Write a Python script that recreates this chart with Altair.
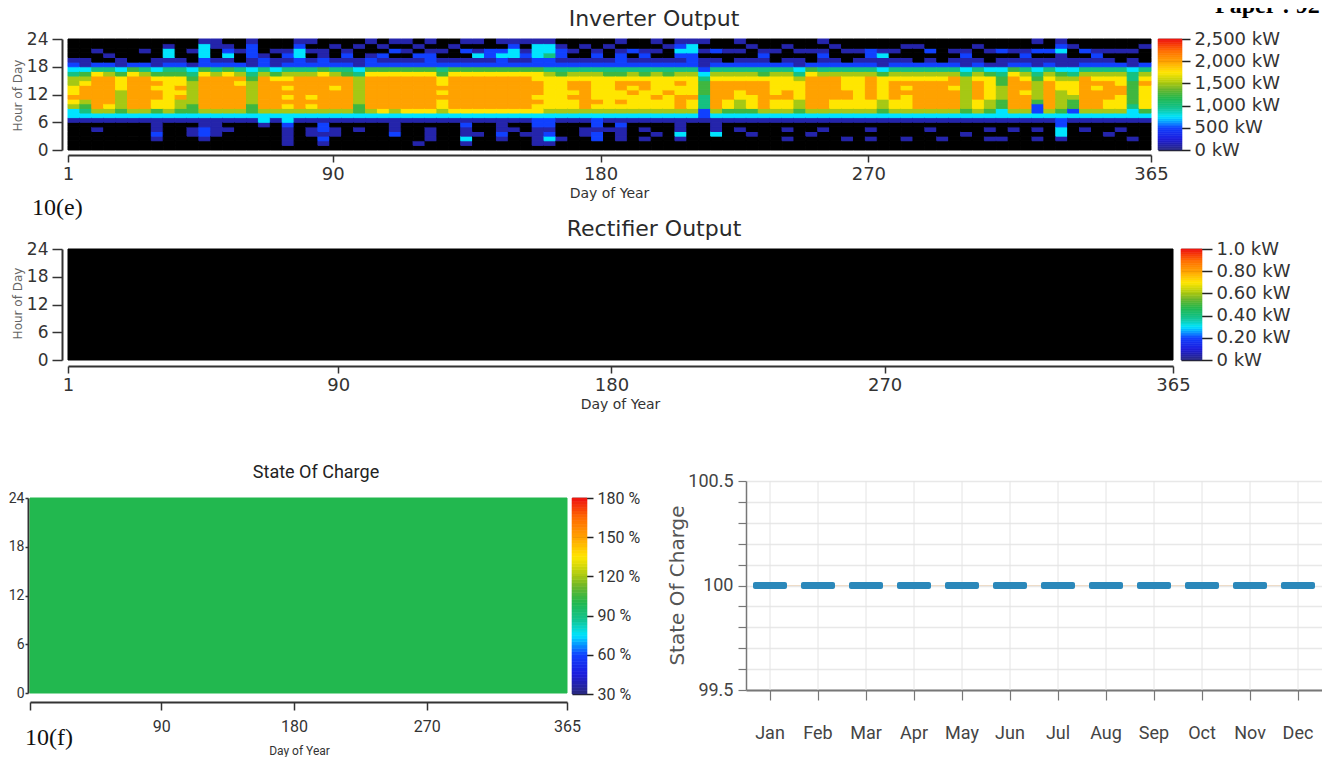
import altair as alt
import pandas as pd

W, H = 1314, 749

# hours 0-6 | hours 7-18 | hours 19-23, colour level read per 4-day column
inverter_cols = """
0000001|336787766432|10000
0000001|345688876531|10000
0000101|368888888742|00100
0000001|367888888642|01000
0000001|356666777531|10000
0000001|368888888752|00000
0000001|368888888642|00100
0012111|357788787531|10000
0000001|367777777542|13310
0000001|356687877542|10000
0001101|355666665431|00100
0012211|368888888752|23331
0001111|368888888642|10011
0000101|368888888752|13210
0000001|368888878642|00100
0000001|355666665431|12221
0000013|368888888642|21000
0000001|368888887531|10100
0111123|367878787642|12100
0000001|368888888642|23321
0001101|367878888642|10101
0121221|368888888752|21100
0001101|368888788642|10010
0000001|368888888542|12100
0000101|355666666431|10010
0000001|368888888752|21001
0000001|378888888752|12010
0002111|368888888752|10201
0000001|378888888752|10101
0100001|378888888752|12010
0011101|378888888752|22101
0000001|367787877542|10100
0000001|378888888752|10010
0131121|378888888752|10201
0001001|378888888752|13101
0000001|378888888752|12200
0012111|378888888752|23201
0000101|378888888752|13321
0001001|378888888752|12101
0111122|377878887752|23331
0132122|367777777642|24331
0010001|367777777542|12210
0000001|367787887642|10100
0001101|368888887642|10010
0022122|367877777642|12100
0000101|367777777542|10010
0011121|367877887542|22101
0000001|367778787642|10200
0010101|367777887542|12100
0001001|367787777642|10101
0000001|367778777542|10010
0013111|368887787642|12321
0000001|367787777642|22331
0000001|224445554321|10101
0003111|368888887642|10200
0000001|357788887642|00100
0000101|356677887642|10101
0001001|357778887642|10010
0000001|368888887542|12100
0000001|367787777642|00100
0010101|367788777642|10010
0000001|356677776431|10100
0001001|368888888752|00100
0000101|368888888642|12101
0000001|367788888642|10010
0010001|367788777642|00100
0000001|367777777642|10100
0010101|367788888642|12200
0000001|356677777531|13100
0000001|367788887642|10100
0010001|367778787642|10010
0000001|368888887642|00010
0000101|368888887642|10200
0010001|368888887642|00000
0000001|368888788642|10100
0001001|356666666431|12100
0000001|367788887642|10010
0010101|356677777531|00100
0010001|335566655431|10200
0000101|368888888752|10100
0000001|368887887642|12100
0010101|322566665431|10201
0000001|368888887642|10200
0013322|356666776531|11321
0000001|325567776431|10010
0000101|368888888642|10200
0000001|368888787642|12100
0001001|367788887642|10100
0000101|367778877642|00100
0010001|334555554431|10100
0000001|357777787642|00010
""".split()

level_kw = [0, 120, 500, 750, 1000, 1250, 1500, 1750, 2000]
months = ["Jan", "Feb", "Mar", "Apr", "May", "Jun", "Jul", "Aug", "Sep", "Oct", "Nov", "Dec"]
soc_monthly = [100] * 12
soc_low = [99.5] * 12
soc_high = [100.5] * 12
rectifier_value = 0
soc_value = 100
day_ticks = [1, 90, 180, 270, 365]
hour_ticks = [0, 6, 12, 18, 24]
inverter_bar_ticks = [0, 500, 1000, 1500, 2000, 2500]
rectifier_bar_ticks = [0, 0.2, 0.4, 0.6, 0.8, 1.0]
soc_bar_ticks = [30, 60, 90, 120, 150, 180]
soc_y_ticks = [99.5, 99.6, 99.7, 99.8, 99.9, 100, 100.1, 100.2, 100.3, 100.4, 100.5]

ramp_pos = [0, 0.003, 0.1, 0.2, 0.3, 0.38, 0.467, 0.55, 0.6, 0.7, 0.8, 0.9, 1]
ramp_hex = ["#000000", "#2a2a80", "#1c1cdc", "#1040ff", "#00e4ff", "#12c490", "#22b84f",
            "#6cb52a", "#a6c814", "#ffe600", "#ffa200", "#ff6a00", "#ee1010"]

WIDE = "DejaVu Sans"
NARROW = "Roboto"
INK = "#333333"


def cscale(lo, hi):
    return alt.Scale(domain=[lo + p * (hi - lo) for p in ramp_pos], range=ramp_hex,
                     interpolate="rgb", clamp=True)


def day_axis(axis_y, title_x, title_y, font, lab, ttl, hide_first=False, pad=3, tick=7):
    return alt.Axis(values=day_ticks, format="d", title="Day of Year", orient="bottom",
                    offset=axis_y - H, grid=False,
                    domainColor=INK, domainWidth=2, tickColor=INK, tickWidth=1.5, tickSize=tick,
                    labelFont=font, labelFontSize=lab, labelColor=INK, labelPadding=pad,
                    labelFlush=False, labelOverlap=False,
                    labelExpr="datum.value==1?'':datum.label" if hide_first else "datum.label",
                    titleFont=font, titleFontSize=ttl, titleFontWeight="normal", titleColor=INK,
                    titleBaseline="alphabetic", titleX=title_x, titleY=title_y - axis_y,
                    titleAnchor="middle")


def hour_axis(axis_x, font, lab, title=True, title_center=0, tick=10, pad=4):
    kw = dict(values=hour_ticks, format="d", offset=-axis_x, grid=False, orient="left",
              domainColor=INK, domainWidth=2, tickColor=INK, tickWidth=1.5, tickSize=tick,
              labelFont=font, labelFontSize=lab, labelColor=INK, labelPadding=pad,
              labelOverlap=False, labelFlush=False)
    if title:
        kw.update(title="Hour of Day", titleFont=font, titleFontSize=12, titleFontWeight="normal",
                  titleColor="#666666", titleX=13 - axis_x, titleY=title_center, titleAnchor="middle",
                  titleBaseline="alphabetic")
    else:
        kw.update(title=None)
    return alt.Axis(**kw)


def colorbar(x0, x1, y_bot, y_top, lo, hi, ticks, expr, font, fs, tick):
    n = 60
    rows = [{"v": lo + (hi - lo) * i / n, "v2": lo + (hi - lo) * (i + 1) / n,
             "c": lo + (hi - lo) * (i + 0.5) / n} for i in range(n)]
    sc = cscale(lo, hi)
    yax = alt.Axis(values=ticks, orient="right", offset=x0 - W, title=None, grid=False, domain=False,
                   tickColor="#222222", tickWidth=1.5, tickSize=tick, labelFont=font, labelFontSize=fs,
                   labelColor=INK, labelPadding=4, labelExpr=expr, labelOverlap=False, labelFlush=False)
    return alt.Chart(pd.DataFrame(rows)).mark_rect(strokeWidth=0.6).encode(
        x=alt.value(x0), x2=alt.value(x1),
        y=alt.Y("v:Q", scale=alt.Scale(domain=[lo, hi], range=[y_bot, y_top]), axis=yax),
        y2="v2:Q",
        color=alt.Color("c:Q", scale=sc, legend=None),
        stroke=alt.Stroke("c:Q", scale=sc, legend=None),
    )


def heat(df, x_rng, y_rng, lo, hi, xax, yax):
    sc = cscale(lo, hi)
    return alt.Chart(df).mark_rect(strokeWidth=1).encode(
        x=alt.X("d0:Q", scale=alt.Scale(domain=[1, 365], range=x_rng), axis=xax),
        x2="d1:Q",
        y=alt.Y("h0:Q", scale=alt.Scale(domain=[0, 24], range=y_rng), axis=yax),
        y2="h1:Q",
        color=alt.Color("v:Q", scale=sc, legend=None),
        stroke=alt.Stroke("v:Q", scale=sc, legend=None),
    )


def label(text, x, y, font, size, color=INK, weight="normal", align="center"):
    return alt.Chart(alt.Data(values=[{"t": text}])).mark_text(
        font=font, fontSize=size, color=color, fontWeight=weight, align=align, baseline="alphabetic"
    ).encode(text="t:N", x=alt.value(x), y=alt.value(y))


inv_rows = []
for i, col in enumerate(inverter_cols):
    digits = col.replace("|", "")
    assert len(digits) == 24
    for h, ch in enumerate(digits):
        inv_rows.append({"d0": 1 + 4 * i, "d1": 5 + 4 * i, "h0": h, "h1": h + 1, "v": level_kw[int(ch)]})
inv_df = pd.DataFrame(inv_rows)
rect_df = pd.DataFrame([{"d0": 1, "d1": 365, "h0": 0, "h1": 24, "v": rectifier_value}])
soc_df = pd.DataFrame([{"d0": 1, "d1": 365, "h0": 0, "h1": 24, "v": soc_value}])
line_df = pd.DataFrame({"m": months, "v": soc_monthly, "lo": soc_low, "hi": soc_high})

inverter = heat(inv_df, [60, 1143], [142, 31], 0, 2500,
                day_axis(147, 601, 189, WIDE, 18, 14), hour_axis(54, WIDE, 17, True, 87))
inverter_bar = colorbar(1150, 1174, 142, 31, 0, 2500, inverter_bar_ticks,
                        "format(datum.value,',')+' kW'", WIDE, 18, 32)
rectifier = heat(rect_df, [60, 1165], [352, 241], 0, 1,
                 day_axis(358, 612, 400, WIDE, 18, 14), hour_axis(54, WIDE, 17, True, 295))
rectifier_bar = colorbar(1173, 1194, 352, 241, 0, 1, rectifier_bar_ticks,
                         "datum.value==0?'0 kW':datum.value==1?'1.0 kW':format(datum.value,'.2f')+' kW'",
                         WIDE, 18, 31)
soc = heat(soc_df, [22, 559], [685, 490], 30, 180,
           day_axis(694, 291, 746, NARROW, 16, 12, hide_first=True, pad=8, tick=8),
           hour_axis(20, NARROW, 14, False, tick=3, pad=1))
soc_bar = colorbar(564, 579, 686, 490, 30, 180, soc_bar_ticks, "datum.value+' %'", NARROW, 16, 21)

x_line = alt.X("m:N", sort=months,
               scale=alt.Scale(type="band", domain=months, range=[738, 1314], paddingInner=0, paddingOuter=0),
               axis=alt.Axis(title=None, labelAngle=0, orient="bottom", offset=682 - H, grid=False,
                             domainColor="#777777", domainWidth=2,
                             tickColor="#777777", tickSize=10, tickWidth=1.2, labelFont=NARROW,
                             labelFontSize=18, labelColor="#444444", labelPadding=24))
y_scale = alt.Scale(domain=[99.5, 100.5], range=[682, 473], nice=False, zero=False)
y_axis = alt.Axis(values=soc_y_ticks, offset=-738, orient="left", title="State Of Charge",
                  grid=True, gridColor="#e8e8e8", gridWidth=1.5, domainColor="#777777",
                  domainWidth=1.5, tickColor="#777777", tickSize=8, tickWidth=1.2,
                  labelFont=NARROW, labelFontSize=18, labelColor="#444444", labelPadding=5,
                  labelExpr="datum.value==99.5||datum.value==100||datum.value==100.5?format(datum.value,'~r'):''",
                  labelOverlap=False, labelFlush=False,
                  titleFont=WIDE, titleFontSize=20, titleFontWeight="normal",
                  titleColor="#555555", titleX=675 - 738, titleY=577, titleAnchor="middle",
                  titleBaseline="alphabetic")
y_line = alt.Y("v:Q", scale=y_scale, axis=y_axis)
soc_line = alt.layer(
    alt.Chart(line_df).mark_rule(color="#e4e4e4", strokeWidth=1).encode(
        x=x_line, y=alt.Y("lo:Q", scale=y_scale, axis=y_axis), y2="hi:Q"),
    alt.Chart(line_df).mark_line(color="#eedcc8", strokeWidth=1.2).encode(x=x_line, y=y_line),
    alt.Chart(line_df).mark_tick(color="#2b88ba", size=34, thickness=7, cornerRadius=2, opacity=1).encode(x=x_line, y=y_line),
)

texts = [
    label("Inverter Output", 646, 18, WIDE, 22, "#2a2a2a"),
    label("Rectifier Output", 646, 228, WIDE, 22, "#2a2a2a"),
    label("State Of Charge", 308, 470, NARROW, 18, "#222222"),
    label("10(e)", 24, 207, "Liberation Serif", 24, "#111111", align="left"),
    label("10(f)", 17, 737, "Liberation Serif", 24, "#111111", align="left"),
    label("Paper : 92", 1207, 5, "Liberation Serif", 24, "#000000", "bold", "left"),
]

chart = alt.layer(
    inverter, inverter_bar, rectifier, rectifier_bar, soc, soc_bar, soc_line, *texts
).resolve_scale(x="independent", y="independent", color="independent", stroke="independent"
).resolve_axis(x="independent", y="independent"
).properties(width=W, height=H, padding=0, autosize=alt.AutoSizeParams(type="none")
).configure_view(stroke=None)

chart.save("out.html", embed_options={"renderer": "svg", "actions": False})
